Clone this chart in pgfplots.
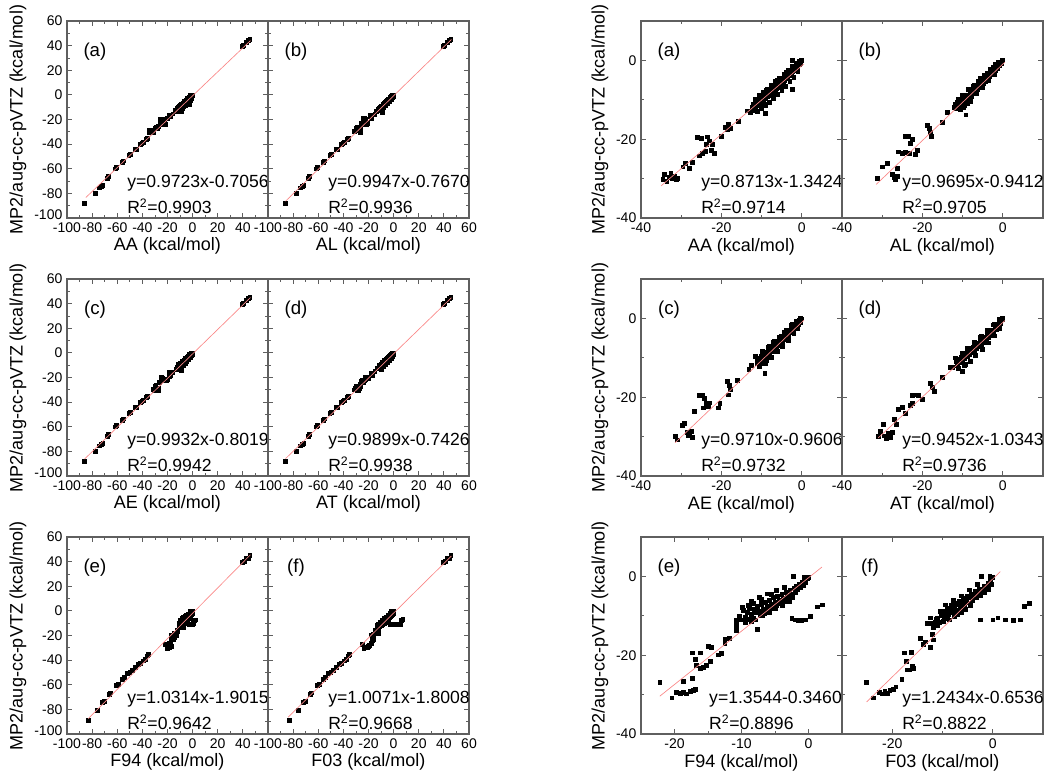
\documentclass[border=0pt]{standalone}
\usepackage{fontspec}
\setmainfont{Liberation Sans}
\usepackage{pgfplots}
\usepackage{pgfplotstable}
\pgfplotsset{compat=1.18}
\definecolor{fitred}{RGB}{250,135,135}
\definecolor{framegray}{RGB}{95,95,95}

% ---------- extra (far) points, left block only ----------
\pgfplotstableread[row sep=\\]{x y\\
-86.2 -88.0\\ -77.7 -80.0\\ -74.5 -75.5\\ -73.0 -74.5\\ -71.5 -73.6\\ -67.9 -67.6\\ -67.0 -66.2\\ -61.4 -60.0\\ -60.5 -59.0\\ -56.0 -54.5\\ -55.0 -53.5\\ -50.8 -49.0\\ -49.8 -48.3\\ -45.5 -44.5\\ -44.5 -44.0\\ -42.0 -40.2\\ -40.5 -39.5\\ -39.0 -38.6\\ -37.0 -36.0\\ -36.0 -35.5\\ 39.5 39.5\\ 40.5 40.5\\ 42.5 42.5\\ 44.5 44.5\\ 45.5 45.0\\
}\tExA
\pgfplotstableread[row sep=\\]{x y\\
-83.0 -88.5\\ -76.0 -80.5\\ -72.0 -74.5\\ -70.5 -73.5\\ -66.5 -67.5\\ -65.5 -66.5\\ -61.0 -60.5\\ -59.5 -59.5\\ -56.0 -55.5\\ -54.5 -54.0\\ -52.0 -51.0\\ -50.0 -50.0\\ -48.0 -48.0\\ -45.5 -45.5\\ -43.5 -43.5\\ -42.0 -42.5\\ -39.0 -40.5\\ -37.5 -39.0\\ -36.0 -36.5\\ -35.0 -35.5\\ 39.5 39.5\\ 41.0 40.5\\ 42.5 42.5\\ 44.0 43.0\\ 45.5 45.0\\
}\tExF

% ---------- main points ----------
\pgfplotstableread[row sep=\\]{x y\\
-34.6 -30.2\\ -34.2 -29.0\\ -33.6 -30.6\\ -33.1 -29.6\\ -32.6 -28.7\\ -32.2 -30.0\\ -31.8 -29.4\\ -31.3 -30.3\\ -30.9 -30.0\\ -29.6 -27.0\\ -29.0 -26.2\\ -28.0 -27.4\\ -27.2 -25.8\\ -26.0 -19.6\\ -25.0 -19.8\\ -23.5 -19.4\\ -23.0 -20.4\\ -23.8 -21.3\\ -25.6 -24.2\\ -24.8 -23.6\\ -24.0 -23.0\\ -22.2 -21.2\\ -21.8 -23.6\\ -22.5 -22.8\\ -20.0 -19.2\\ -19.0 -16.9\\ -18.5 -17.6\\ -17.8 -17.2\\ -18.2 -16.2\\ -15.8 -15.4\\ -13.6 -12.8\\
-12.4 -11.8\\ -12.0 -11.0\\ -11.7 -11.6\\ -11.4 -10.6\\ -11.1 -11.3\\ -10.8 -10.2\\ -10.6 -10.9\\ -10.3 -9.8\\ -10.0 -10.5\\ -9.8 -9.4\\ -9.5 -10.0\\ -9.2 -8.9\\ -9.0 -9.6\\ -8.7 -8.4\\ -8.5 -9.2\\ -8.2 -8.0\\ -8.0 -8.8\\ -7.8 -7.4\\ -7.6 -8.3\\ -7.3 -7.0\\ -7.1 -7.9\\ -6.9 -6.6\\ -6.7 -7.5\\ -6.5 -6.2\\ -6.3 -7.0\\ -6.1 -5.8\\ -5.9 -6.6\\ -5.7 -5.4\\ -5.5 -6.2\\ -5.3 -5.0\\ -5.1 -5.8\\ -4.9 -4.6\\ -4.7 -5.4\\ -4.5 -4.2\\ -4.3 -5.0\\ -4.1 -3.8\\ -3.9 -4.6\\ -3.7 -3.4\\ -3.5 -4.1\\ -3.3 -3.0\\ -3.1 -3.7\\ -2.9 -2.6\\ -2.7 -3.3\\ -2.5 -2.2\\ -2.3 -2.9\\ -2.1 -1.8\\ -1.9 -2.4\\ -1.7 -1.4\\ -1.5 -2.0\\ -1.3 -1.0\\ -1.1 -1.5\\ -0.9 -0.7\\ -0.7 -1.1\\ -0.5 -0.4\\ -0.3 -0.7\\ -0.1 -0.1\\ -0.2 0.0\\ -0.6 -0.2\\ -1.0 -0.6\\ -8.8 -7.6\\ -7.5 -6.5\\ -6.0 -5.0\\ -9.3 -11.2\\ -10.2 -11.8\\ -11.6 -12.3\\ -4.0 -3.1\\ -2.3 0.0\\ -2.3 -7.3\\ -9.0 -13.5\\ -5.2 -6.8\\ -6.8 -8.5\\
-11.5 -9.8\\ -11.0 -13.0\\ -10.5 -8.9\\ -10.0 -12.2\\ -9.5 -8.1\\ -9.0 -11.4\\ -8.5 -7.3\\ -8.0 -10.6\\ -7.5 -6.4\\ -7.0 -9.6\\ -6.5 -5.4\\ -6.0 -8.6\\ -5.5 -4.5\\ -5.0 -7.6\\ -4.5 -3.6\\ -4.0 -6.5\\ -3.5 -2.6\\ -3.0 -5.4\\ -2.5 -1.6\\ -2.0 -4.2\\ -1.5 -0.8\\ -1.0 -2.8\\ -12.8 -13.2\\ -12.2 -12.8\\
}\tAA

\pgfplotstableread[row sep=\\]{x y\\
-31.3 -29.9\\ -29.9 -27.0\\ -28.8 -26.2\\ -27.5 -29.0\\ -27.0 -29.8\\ -26.6 -29.3\\ -26.8 -30.2\\ -26.3 -29.5\\ -26.3 -27.3\\ -25.9 -23.2\\ -25.0 -23.6\\ -24.2 -23.3\\ -23.3 -23.5\\ -21.7 -23.8\\ -24.2 -19.2\\ -23.4 -19.2\\ -22.6 -20.1\\ -21.3 -22.8\\ -23.0 -21.0\\ -18.8 -16.5\\ -18.4 -17.3\\ -18.0 -18.2\\ -17.9 -19.2\\ -15.0 -15.6\\ -13.8 -13.1\\
-11.8 -11.2\\ -11.4 -10.6\\ -11.0 -11.5\\ -10.7 -10.2\\ -10.3 -11.0\\ -10.0 -10.0\\ -9.7 -10.6\\ -9.4 -9.4\\ -9.1 -10.1\\ -8.8 -8.9\\ -8.5 -9.6\\ -8.2 -8.3\\ -7.9 -9.0\\ -7.6 -7.8\\ -7.3 -8.4\\ -7.0 -7.2\\ -6.8 -7.9\\ -6.5 -6.6\\ -6.3 -7.3\\ -6.0 -6.1\\ -5.8 -6.8\\ -5.5 -5.6\\ -5.3 -6.3\\ -5.0 -5.0\\ -4.8 -5.8\\ -4.5 -4.5\\ -4.3 -5.2\\ -4.0 -4.0\\ -3.8 -4.7\\ -3.5 -3.5\\ -3.3 -4.1\\ -3.0 -3.0\\ -2.8 -3.6\\ -2.5 -2.5\\ -2.3 -3.0\\ -2.0 -1.9\\ -1.8 -2.5\\ -1.5 -1.4\\ -1.3 -1.9\\ -1.0 -0.9\\ -0.8 -1.3\\ -0.5 -0.4\\ -0.3 -0.8\\ -0.1 0.0\\ -9.2 -13.8\\ -8.9 -11.0\\ -6.2 -5.2\\ -4.6 -3.7\\ -3.1 -2.2\\ -7.4 -6.5\\ -10.5 -12.4\\ -9.9 -11.8\\ -2.0 -1.0\\ -1.2 -0.4\\
-11.0 -9.8\\ -10.5 -12.0\\ -10.0 -8.9\\ -9.5 -11.4\\ -8.5 -7.4\\ -8.0 -10.4\\ -7.0 -6.3\\ -6.5 -8.3\\ -5.5 -4.6\\ -5.0 -6.8\\ -4.0 -3.2\\ -3.5 -5.0\\ -2.5 -1.8\\ -2.0 -3.6\\ -12.2 -11.9\\ -11.5 -12.2\\
}\tAL

\pgfplotstableread[row sep=\\]{x y\\
-31.5 -29.9\\ -30.9 -30.8\\ -29.8 -27.2\\ -29.3 -26.6\\ -28.6 -28.9\\ -28.2 -29.8\\ -27.9 -29.2\\ -27.5 -28.6\\ -27.3 -30.2\\ -26.7 -23.6\\ -25.4 -19.5\\ -24.8 -19.4\\ -24.2 -20.2\\ -23.9 -21.6\\ -23.2 -22.4\\ -22.9 -21.4\\ -24.6 -22.7\\ -20.8 -22.7\\ -20.4 -21.5\\ -18.6 -16.0\\ -18.0 -16.9\\ -17.7 -18.0\\ -18.3 -19.4\\ -16.0 -15.6\\ -13.2 -13.0\\ -9.2 -13.9\\
-11.2 -10.5\\ -11.0 -11.3\\ -10.7 -10.0\\ -10.4 -10.8\\ -10.1 -9.6\\ -9.8 -10.4\\ -9.5 -9.1\\ -9.2 -9.9\\ -8.9 -8.6\\ -8.6 -9.4\\ -8.3 -8.1\\ -8.0 -8.9\\ -7.7 -7.6\\ -7.4 -8.4\\ -7.1 -7.0\\ -6.9 -7.8\\ -6.6 -6.5\\ -6.4 -7.3\\ -6.1 -6.0\\ -5.9 -6.8\\ -5.6 -5.5\\ -5.4 -6.2\\ -5.1 -5.0\\ -4.9 -5.7\\ -4.6 -4.5\\ -4.4 -5.2\\ -4.1 -4.0\\ -3.9 -4.7\\ -3.6 -3.5\\ -3.4 -4.2\\ -3.1 -3.0\\ -2.9 -3.6\\ -2.6 -2.5\\ -2.4 -3.1\\ -2.1 -2.0\\ -1.9 -2.6\\ -1.6 -1.5\\ -1.4 -2.0\\ -1.1 -1.0\\ -0.9 -1.4\\ -0.6 -0.5\\ -0.4 -0.9\\ -0.1 -0.1\\ -0.3 0.0\\ -8.4 -7.2\\ -7.0 -6.1\\ -5.7 -4.7\\ -4.3 -3.4\\ -9.6 -11.4\\ -8.7 -10.6\\ -2.7 -1.8\\ -1.5 -0.6\\
-11.5 -9.6\\ -10.5 -12.2\\ -9.8 -8.4\\ -9.0 -11.3\\ -8.2 -7.0\\ -7.6 -9.8\\ -6.8 -5.8\\ -6.2 -8.4\\ -5.2 -4.4\\ -4.8 -7.0\\ -3.8 -3.0\\ -3.4 -5.6\\ -2.4 -1.4\\ -2.0 -3.8\\ -12.5 -12.0\\ -1.0 -2.4\\
}\tAE

\pgfplotstableread[row sep=\\]{x y\\
-31.0 -30.0\\ -30.4 -28.6\\ -29.6 -29.8\\ -29.0 -30.4\\ -28.4 -29.2\\ -28.0 -30.2\\ -27.6 -28.8\\ -29.8 -26.8\\ -27.0 -25.6\\ -26.5 -26.8\\ -26.0 -23.0\\ -25.0 -22.5\\ -24.2 -24.0\\ -23.0 -22.0\\ -22.6 -19.6\\ -21.8 -19.4\\ -22.5 -21.5\\ -20.0 -20.5\\ -21.0 -19.5\\ -18.0 -16.5\\ -17.5 -17.5\\ -17.0 -18.5\\ -15.0 -15.0\\ -13.0 -12.5\\ -10.0 -13.5\\
-11.6 -11.0\\ -11.3 -11.8\\ -11.0 -10.4\\ -10.7 -11.2\\ -10.4 -9.9\\ -10.1 -10.7\\ -9.8 -9.4\\ -9.5 -10.2\\ -9.2 -8.9\\ -8.9 -9.7\\ -8.6 -8.4\\ -8.3 -9.2\\ -8.0 -7.9\\ -7.7 -8.7\\ -7.4 -7.4\\ -7.1 -8.2\\ -6.8 -6.9\\ -6.5 -7.7\\ -6.2 -6.3\\ -5.9 -7.1\\ -5.6 -5.8\\ -5.3 -6.5\\ -5.0 -5.2\\ -4.7 -6.0\\ -4.4 -4.7\\ -4.1 -5.4\\ -3.8 -4.1\\ -3.5 -4.8\\ -3.2 -3.5\\ -2.9 -4.2\\ -2.6 -2.9\\ -2.3 -3.5\\ -2.0 -2.2\\ -1.7 -2.8\\ -1.4 -1.6\\ -1.1 -2.1\\ -0.8 -0.9\\ -0.5 -1.3\\ -0.2 -0.2\\ -0.1 0.0\\ -8.8 -7.6\\ -7.2 -6.2\\ -5.6 -4.8\\ -4.0 -3.3\\ -2.4 -1.6\\ -9.4 -11.6\\ -1.0 -0.3\\
-11.8 -10.0\\ -11.0 -12.6\\ -10.2 -8.8\\ -9.6 -11.8\\ -8.6 -7.5\\ -8.2 -10.8\\ -7.0 -6.0\\ -6.8 -9.4\\ -5.4 -4.5\\ -5.2 -7.9\\ -3.8 -3.0\\ -3.6 -6.2\\ -2.2 -1.4\\ -2.0 -4.4\\ -12.5 -12.4\\ -0.8 -2.6\\
}\tAT

\pgfplotstableread[row sep=\\]{x y\\
-22.2 -26.8\\ -20.4 -30.8\\ -19.7 -29.3\\ -19.2 -29.6\\ -18.7 -29.5\\ -18.2 -29.8\\ -17.7 -29.2\\ -17.2 -28.9\\ -16.9 -28.7\\ -18.7 -26.6\\ -17.4 -25.8\\ -17.4 -19.4\\ -16.9 -21.1\\ -16.2 -19.4\\ -16.7 -22.6\\ -16.2 -23.4\\ -15.7 -23.0\\ -15.2 -22.6\\ -14.7 -21.6\\ -14.9 -17.8\\ -14.5 -17.9\\ -13.5 -19.9\\ -13.0 -19.6\\ -12.5 -16.0\\ -12.5 -16.9\\ -11.8 -15.7\\ -10.8 -11.2\\ -10.8 -12.4\\ -10.8 -13.7\\ -7.7 -13.5\\
-10.3 -10.0\\ -10.0 -11.0\\ -9.7 -8.6\\ -9.5 -10.4\\ -9.2 -9.2\\ -9.0 -10.8\\ -8.8 -8.0\\ -8.5 -9.7\\ -8.3 -10.6\\ -8.1 -8.4\\ -7.8 -9.2\\ -7.6 -7.6\\ -7.4 -8.8\\ -7.2 -10.0\\ -7.0 -7.0\\ -6.8 -8.2\\ -6.6 -9.3\\ -6.4 -6.5\\ -6.2 -7.6\\ -6.0 -8.6\\ -5.8 -6.0\\ -5.6 -7.0\\ -5.4 -8.0\\ -5.2 -5.4\\ -5.0 -6.5\\ -4.8 -7.4\\ -4.6 -5.0\\ -4.4 -6.0\\ -4.2 -6.9\\ -4.0 -4.5\\ -3.8 -5.5\\ -3.6 -6.4\\ -3.4 -4.0\\ -3.2 -5.0\\ -3.0 -5.9\\ -2.8 -3.5\\ -2.6 -4.5\\ -2.4 -5.3\\ -2.2 -3.0\\ -2.0 -4.0\\ -1.8 -2.5\\ -1.6 -3.4\\ -1.4 -2.0\\ -1.2 -2.9\\ -1.0 -1.5\\ -0.8 -2.3\\ -0.6 -1.0\\ -0.4 -1.6\\ -0.2 -0.5\\ 0.0 -0.2\\ -0.6 -0.3\\ -2.3 0.0\\ -9.9 -7.8\\ -9.0 -7.4\\ -8.2 -6.8\\ -7.0 -5.8\\ -5.5 -4.6\\
-9.4 -11.6\\ -8.6 -11.4\\ -7.9 -11.0\\ -6.9 -9.8\\ -5.9 -9.2\\ -4.9 -8.2\\ -3.9 -7.4\\ -2.9 -6.4\\ -8.6 -6.2\\ -7.4 -5.2\\ -6.2 -4.4\\ -4.8 -3.6\\ -3.6 -2.8\\
-2.5 -10.6\\ -2.0 -11.0\\ -1.5 -11.2\\ -1.0 -11.2\\ -0.5 -11.0\\ 0.2 -10.2\\ 1.3 -7.7\\ 2.0 -7.2\\
}\tFA

\pgfplotstableread[row sep=\\]{x y\\
-25.1 -26.9\\ -23.8 -30.8\\ -22.6 -29.5\\ -22.0 -29.8\\ -21.5 -29.2\\ -21.0 -29.6\\ -20.5 -29.0\\ -19.8 -28.7\\ -19.3 -28.0\\ -18.1 -26.2\\ -17.6 -19.4\\ -17.2 -21.6\\ -16.3 -19.3\\ -16.0 -22.9\\ -17.0 -23.7\\ -16.6 -23.7\\ -15.8 -23.3\\ -14.5 -15.6\\ -13.8 -17.2\\ -13.5 -16.6\\ -12.5 -17.9\\ -11.8 -16.1\\ -12.1 -14.6\\ -11.5 -11.5\\ -11.0 -10.5\\ -12.0 -12.0\\ -11.2 -10.8\\
-10.2 -9.8\\ -9.9 -8.8\\ -9.6 -10.3\\ -9.3 -9.0\\ -9.0 -8.0\\ -8.8 -9.6\\ -8.5 -8.4\\ -8.2 -7.4\\ -8.0 -9.0\\ -7.7 -7.8\\ -7.4 -6.8\\ -7.2 -8.5\\ -6.9 -7.2\\ -6.6 -6.2\\ -6.4 -7.9\\ -6.1 -6.6\\ -5.8 -5.6\\ -5.6 -7.3\\ -5.3 -6.0\\ -5.0 -5.0\\ -4.8 -6.7\\ -4.5 -5.4\\ -4.2 -4.4\\ -4.0 -6.0\\ -3.7 -4.8\\ -3.4 -3.8\\ -3.2 -5.4\\ -2.9 -4.2\\ -2.6 -3.2\\ -2.4 -4.8\\ -2.1 -3.6\\ -1.8 -2.6\\ -1.6 -4.0\\ -1.3 -2.8\\ -1.0 -1.8\\ -0.8 -3.2\\ -0.5 -1.0\\ -0.3 -2.0\\ 0.0 -0.3\\ -0.6 0.0\\ -2.2 0.0\\ -8.6 -11.0\\ -7.0 -9.6\\ -5.4 -8.4\\ -9.4 -7.2\\ -7.9 -6.0\\ -6.3 -4.9\\ -4.6 -3.4\\ -3.0 -2.0\\
-11.8 -13.0\\ -11.0 -12.4\\ -10.6 -11.6\\ -10.5 -8.8\\ -9.8 -11.4\\ -9.0 -10.6\\ -12.5 -10.5\\ -13.0 -12.0\\ -7.6 -10.2\\ -6.2 -9.0\\ -4.4 -7.4\\
-2.5 -11.0\\ 0.0 -11.0\\ 1.0 -10.5\\ 2.5 -11.0\\ 4.0 -11.2\\ 5.5 -11.0\\ 6.3 -7.5\\ 7.3 -6.9\\
}\tFO

\newcommand{\eqfont}{\fontsize{13.2}{15}\selectfont}
\newcommand{\panelfont}{\fontsize{14}{16}\selectfont}

\pgfplotsset{
  panel/.style={scale only axis, width=150.75pt, height=147.75pt, anchor=north west,
    axis line style={framegray, line width=0.8pt},
    every tick/.style={framegray, line width=0.6pt},
    tick align=inside, major tick length=4pt, minor tick length=2.2pt,
    clip mode=individual,
    tick label style={font=\fontsize{10.5}{12}\selectfont, text=black},
    label style={font=\fontsize{13.5}{16}\selectfont},
  },
  L/.style={panel, xmin=-100, xmax=60, ymin=-100, ymax=60,
    xtick={-100,-80,...,60}, ytick={-100,-80,...,60}, minor tick num=1,
    xticklabel style={inner sep=1.7pt, yshift=-1.5pt},
    yticklabel style={inner sep=1pt, xshift=-2.3pt},
    xlabel style={at={(axis description cs:0.5,-0.14)}, anchor=center},
    ylabel style={at={(axis description cs:-0.244,0.5)}, anchor=center}},
  L1/.style={L, xticklabels={-100,-80,-60,-40,-20,0,20,40,{}},
    yticklabels={\raisebox{-1pt}[0pt][0pt]{-100},-80,-60,-40,-20,0,20,40,60},
    ylabel={MP2/aug-cc-pVTZ (kcal/mol)}},
  L2/.style={L, xticklabels={-100,-80,-60,-40,-20,0,20,40,60}, yticklabels={}},
  R/.style={panel, ymin=-40, ymax=10, ytick={-40,-20,0}, minor ytick={-30,-10},
    xticklabel style={inner sep=3.2pt},
    xlabel style={at={(axis description cs:0.5,-0.147)}, anchor=center},
    ylabel style={at={(axis description cs:-0.204,0.5)}, anchor=center}},
  R1/.style={R, yticklabels={-40,-20,0}, ylabel={MP2/aug-cc-pVTZ (kcal/mol)}},
  R2/.style={R, yticklabels={}},
  RX/.style={xmin=-40, xmax=10, xtick={-40,-20,0}, xticklabels={-40,-20,0}, minor xtick={-30,-10,10}},
  sc/.style={only marks, mark=square*, mark size=1.45pt, black, mark options={draw=black, fill=black}},
  fit/.style={no marks, fitred, line width=0.5pt},
}

\begin{document}
\begin{tikzpicture}
\path[use as bounding box] (0pt,0pt) rectangle (787.5pt,-585pt);

% ================= LEFT BLOCK =================
% (a)
\begin{axis}[L1, at={(50.25pt,-15.75pt)}, xlabel={AA (kcal/mol)}]
\addplot[sc] table {\tExA};
\addplot[sc] table {\tAA};
\addplot[fit] coordinates {(-85,-83.35) (46,44.02)};
\node[font=\panelfont] at (axis description cs:0.139,0.843) {(a)};
\node[anchor=west, inner sep=0pt, font=\eqfont] at (axis description cs:0.2985,0.178) {y=0.9723x-0.7056};
\node[anchor=west, inner sep=0pt, font=\eqfont] at (axis description cs:0.2985,0.061) {R\textsuperscript{2}=0.9903};
\end{axis}
% (b)
\begin{axis}[L2, at={(201pt,-15.75pt)}, xlabel={AL (kcal/mol)}]
\addplot[sc] table {\tExA};
\addplot[sc] table {\tAL};
\addplot[fit] coordinates {(-86,-86.31) (46,45.0)};
\node[font=\panelfont] at (axis description cs:0.139,0.843) {(b)};
\node[anchor=west, inner sep=0pt, font=\eqfont] at (axis description cs:0.2985,0.178) {y=0.9947x-0.7670};
\node[anchor=west, inner sep=0pt, font=\eqfont] at (axis description cs:0.2985,0.061) {R\textsuperscript{2}=0.9936};
\end{axis}
% (c)
\begin{axis}[L1, at={(50.25pt,-209.25pt)}, xlabel={AE (kcal/mol)}]
\addplot[sc] table {\tExA};
\addplot[sc] table {\tAE};
\addplot[fit] coordinates {(-86,-86.22) (46,44.89)};
\node[font=\panelfont] at (axis description cs:0.139,0.843) {(c)};
\node[anchor=west, inner sep=0pt, font=\eqfont] at (axis description cs:0.2985,0.178) {y=0.9932x-0.8019};
\node[anchor=west, inner sep=0pt, font=\eqfont] at (axis description cs:0.2985,0.061) {R\textsuperscript{2}=0.9942};
\end{axis}
% (d)
\begin{axis}[L2, at={(201pt,-209.25pt)}, xlabel={AT (kcal/mol)}]
\addplot[sc] table {\tExA};
\addplot[sc] table {\tAT};
\addplot[fit] coordinates {(-86,-85.87) (46,44.79)};
\node[font=\panelfont] at (axis description cs:0.139,0.843) {(d)};
\node[anchor=west, inner sep=0pt, font=\eqfont] at (axis description cs:0.2985,0.178) {y=0.9899x-0.7426};
\node[anchor=west, inner sep=0pt, font=\eqfont] at (axis description cs:0.2985,0.061) {R\textsuperscript{2}=0.9938};
\end{axis}
% (e)
\begin{axis}[L1, at={(50.25pt,-402.75pt)}, xlabel={F94 (kcal/mol)}]
\addplot[sc] table {\tExF};
\addplot[sc] table {\tFA};
\addplot[fit] coordinates {(-83,-87.51) (46,45.54)};
\node[font=\panelfont] at (axis description cs:0.139,0.843) {(e)};
\node[anchor=west, inner sep=0pt, font=\eqfont] at (axis description cs:0.2985,0.178) {y=1.0314x-1.9015};
\node[anchor=west, inner sep=0pt, font=\eqfont] at (axis description cs:0.2985,0.061) {R\textsuperscript{2}=0.9642};
\end{axis}
% (f)
\begin{axis}[L2, at={(201pt,-402.75pt)}, xlabel={F03 (kcal/mol)}]
\addplot[sc] table {\tExF};
\addplot[sc] table {\tFO};
\addplot[fit] coordinates {(-84,-86.40) (46,44.53)};
\node[font=\panelfont] at (axis description cs:0.139,0.843) {(f)};
\node[anchor=west, inner sep=0pt, font=\eqfont] at (axis description cs:0.2985,0.178) {y=1.0071x-1.8008};
\node[anchor=west, inner sep=0pt, font=\eqfont] at (axis description cs:0.2985,0.061) {R\textsuperscript{2}=0.9668};
\end{axis}

% ================= RIGHT BLOCK =================
% (a)
\begin{axis}[R1, RX, at={(480.75pt,-15.75pt)}, xlabel={AA (kcal/mol)}]
\addplot[sc] table {\tAA};
\addplot[fit] coordinates {(-35,-31.84) (0.5,-0.91)};
\node[font=\panelfont] at (axis description cs:0.139,0.843) {(a)};
\node[anchor=west, inner sep=0pt, font=\eqfont] at (axis description cs:0.2985,0.178) {y=0.8713x-1.3424};
\node[anchor=west, inner sep=0pt, font=\eqfont] at (axis description cs:0.2985,0.061) {R\textsuperscript{2}=0.9714};
\end{axis}
% (b)
\begin{axis}[R2, RX, at={(631.5pt,-15.75pt)}, xlabel={AL (kcal/mol)}]
\addplot[sc] table {\tAL};
\addplot[fit] coordinates {(-31.5,-31.48) (0.5,-0.46)};
\node[font=\panelfont] at (axis description cs:0.139,0.843) {(b)};
\node[anchor=west, inner sep=0pt, font=\eqfont] at (axis description cs:0.2985,0.178) {y=0.9695x-0.9412};
\node[anchor=west, inner sep=0pt, font=\eqfont] at (axis description cs:0.2985,0.061) {R\textsuperscript{2}=0.9705};
\end{axis}
% (c)
\begin{axis}[R1, RX, at={(480.75pt,-209.25pt)}, xlabel={AE (kcal/mol)}]
\addplot[sc] table {\tAE};
\addplot[fit] coordinates {(-31.5,-31.55) (0.5,-0.48)};
\node[font=\panelfont] at (axis description cs:0.139,0.843) {(c)};
\node[anchor=west, inner sep=0pt, font=\eqfont] at (axis description cs:0.2985,0.178) {y=0.9710x-0.9606};
\node[anchor=west, inner sep=0pt, font=\eqfont] at (axis description cs:0.2985,0.061) {R\textsuperscript{2}=0.9732};
\end{axis}
% (d)
\begin{axis}[R2, RX, at={(631.5pt,-209.25pt)}, xlabel={AT (kcal/mol)}]
\addplot[sc] table {\tAT};
\addplot[fit] coordinates {(-31,-30.34) (0.5,-0.56)};
\node[font=\panelfont] at (axis description cs:0.139,0.843) {(d)};
\node[anchor=west, inner sep=0pt, font=\eqfont] at (axis description cs:0.2985,0.178) {y=0.9452x-1.0343};
\node[anchor=west, inner sep=0pt, font=\eqfont] at (axis description cs:0.2985,0.061) {R\textsuperscript{2}=0.9736};
\end{axis}
% (e)
\begin{axis}[R1, at={(480.75pt,-402.75pt)}, xlabel={F94 (kcal/mol)},
  xmin=-25, xmax=5, xtick={-20,-10,0}, xticklabels={-20,-10,0}, minor xtick={-15,-5}]
\addplot[sc] table {\tFA};
\addplot[fit] coordinates {(-22.2,-30.41) (2.0,2.36)};
\node[font=\panelfont] at (axis description cs:0.139,0.843) {(e)};
\node[anchor=west, inner sep=0pt, font=\eqfont] at (axis description cs:0.338,0.178) {y=1.3544-0.3460};
\node[anchor=west, inner sep=0pt, font=\eqfont] at (axis description cs:0.338,0.061) {R\textsuperscript{2}=0.8896};
\end{axis}
% (f)
\begin{axis}[R2, at={(631.5pt,-402.75pt)}, xlabel={F03 (kcal/mol)},
  xmin=-30, xmax=10, xtick={-20,0}, xticklabels={-20,0}, minor xtick={-30,-10,10}]
\addplot[sc] table {\tFO};
\addplot[fit] coordinates {(-25.1,-31.86) (1.5,1.21)};
\node[font=\panelfont] at (axis description cs:0.139,0.843) {(f)};
\node[anchor=west, inner sep=0pt, font=\eqfont] at (axis description cs:0.2985,0.178) {y=1.2434x-0.6536};
\node[anchor=west, inner sep=0pt, font=\eqfont] at (axis description cs:0.2985,0.061) {R\textsuperscript{2}=0.8822};
\end{axis}
\end{tikzpicture}
\end{document}
